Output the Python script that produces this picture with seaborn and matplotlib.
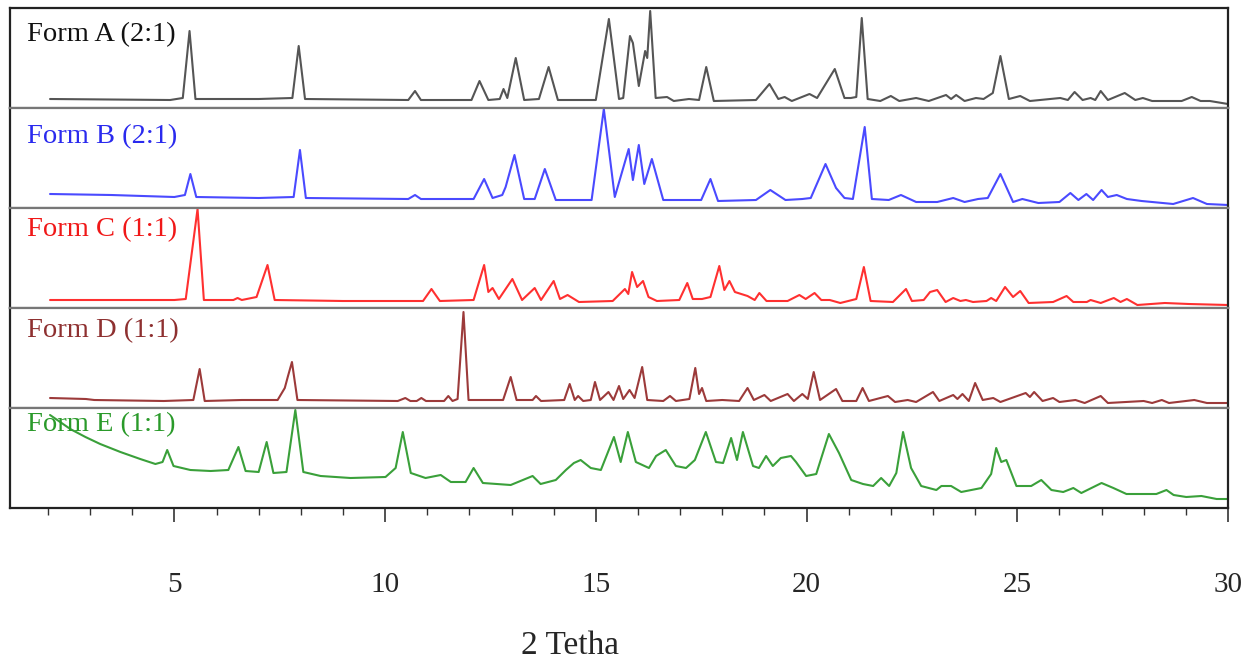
import numpy as np
import pandas as pd
import matplotlib
matplotlib.use("Agg")
import matplotlib.pyplot as plt
from matplotlib.ticker import FixedLocator
import seaborn as sns

# Traces: 2-theta positions and intensity (0-100 within each panel)
form_a_x = [2.05, 4.9, 5.2, 5.36, 5.5, 7.0, 7.8, 7.95, 8.1, 10.55, 10.71, 10.85, 12.05, 12.24, 12.45,
            12.72, 12.81, 12.9, 13.1, 13.3, 13.65, 13.88, 14.1, 15.0, 15.31, 15.55, 15.65, 15.81, 15.88,
            16.02, 16.17, 16.22, 16.29, 16.42, 16.69, 16.85, 17.21, 17.45, 17.62, 17.8, 18.8, 19.12,
            19.33, 19.48, 19.65, 20.07, 20.25, 20.67, 20.9, 21.05, 21.18, 21.31, 21.45, 21.75, 22.0,
            22.2, 22.6, 22.9, 23.31, 23.43, 23.55, 23.75, 24.02, 24.2, 24.42, 24.6, 24.8, 25.07, 25.3,
            26.02, 26.2, 26.36, 26.55, 26.74, 26.85, 26.98, 27.15, 27.55, 27.8, 27.98, 28.2, 28.9,
            29.14, 29.35, 29.57, 30.0]
form_a_y = [9, 8, 10, 77, 9, 9, 10, 62, 9, 8, 17, 8, 8, 27, 8,
            9, 19, 10, 50, 8, 9, 41, 8, 8, 89, 9, 10, 72, 65,
            22, 57, 50, 97, 10, 11, 7, 9, 8, 41, 7, 8, 24,
            9, 11, 7, 14, 10, 39, 10, 10, 11, 90, 9, 7, 12,
            7, 10, 7, 13, 9, 13, 7, 10, 9, 15, 52, 9, 12, 7,
            10, 8, 16, 8, 10, 8, 17, 8, 15, 8, 10, 7, 7,
            11, 7, 7, 4]

form_b_x = [2.05, 3.5, 5.0, 5.25, 5.38, 5.52, 7.0, 7.83, 7.98, 8.12, 10.55, 10.71, 10.85, 12.1, 12.35,
            12.55, 12.78, 12.86, 13.07, 13.3, 13.55, 13.79, 14.05, 14.9, 15.19, 15.45, 15.78, 15.88,
            16.02, 16.15, 16.33, 16.6, 17.5, 17.72, 17.9, 18.8, 19.14, 19.5, 19.9, 20.1, 20.45, 20.7,
            20.9, 21.1, 21.38, 21.55, 21.95, 22.24, 22.6, 23.1, 23.48, 23.75, 24.07, 24.3, 24.6, 24.9,
            25.12, 25.5, 26.0, 26.26, 26.45, 26.64, 26.8, 27.0, 27.15, 27.36, 27.6, 27.95, 28.7, 29.17,
            29.5, 30.0]
form_b_y = [14, 13, 11, 13, 34, 11, 10, 11, 58, 10, 9, 13, 9, 9, 29,
            10, 13, 21, 53, 9, 9, 39, 8, 8, 99, 11, 59, 28,
            63, 24, 49, 8, 8, 29, 7, 8, 18, 8, 9, 10, 44, 20,
            10, 9, 81, 9, 8, 13, 6, 6, 10, 6, 9, 10, 34, 6,
            9, 5, 6, 15, 8, 14, 8, 18, 11, 13, 9, 7, 4, 10,
            4, 3]

form_c_x = [2.05, 5.0, 5.27, 5.55, 5.7, 6.4, 6.5, 6.6, 6.95, 7.21, 7.38, 9.0, 10.9, 11.1, 11.3, 12.1,
            12.25, 12.35, 12.45, 12.55, 12.7, 13.02, 13.25, 13.55, 13.7, 14.0, 14.15, 14.33, 14.6, 15.4,
            15.69, 15.77, 15.86, 15.98, 16.12, 16.25, 16.45, 16.98, 17.17, 17.3, 17.52, 17.72, 17.93,
            18.05, 18.17, 18.3, 18.6, 18.77, 18.88, 19.05, 19.55, 19.83, 19.98, 20.19, 20.35, 20.55,
            20.8, 21.18, 21.36, 21.52, 22.05, 22.36, 22.5, 22.78, 22.93, 23.1, 23.3, 23.48, 23.65, 23.78,
            23.95, 24.27, 24.38, 24.5, 24.71, 24.9, 25.07, 25.27, 25.85, 26.17, 26.33, 26.65, 26.74,
            26.98, 27.29, 27.45, 27.6, 27.85, 28.5, 29.07, 30.0]
form_c_y = [8, 8, 9, 99, 8, 8, 10, 8, 11, 43, 8, 7, 7, 19, 7, 8,
            29, 43, 16, 20, 9, 29, 8, 20, 8, 27, 9, 13, 6, 7,
            19, 14, 36, 21, 27, 11, 7, 8, 25, 9, 9, 11, 42,
            18, 27, 16, 12, 8, 15, 7, 7, 13, 9, 15, 8, 8,
            5, 9, 41, 7, 6, 19, 7, 8, 16, 18, 6, 10, 7, 8,
            6, 7, 10, 7, 21, 11, 17, 5, 6, 12, 6, 6, 8,
            5, 10, 6, 9, 3, 5, 4, 3]

form_d_x = [2.05, 2.9, 3.1, 4.75, 5.45, 5.6, 5.72, 6.6, 7.45, 7.62, 7.69, 7.79, 7.92, 10.3, 10.48, 10.6,
            10.75, 10.86, 10.97, 11.4, 11.5, 11.6, 11.72, 11.86, 11.98, 12.8, 12.98, 13.12, 13.5, 13.58,
            13.7, 14.25, 14.38, 14.5, 14.58, 14.7, 14.88, 14.98, 15.1, 15.3, 15.42, 15.55, 15.65, 15.8,
            15.92, 16.1, 16.22, 16.6, 16.76, 16.9, 17.22, 17.36, 17.45, 17.52, 17.62, 18.0, 18.4, 18.6,
            18.75, 19.0, 19.15, 19.55, 19.7, 19.9, 20.03, 20.17, 20.32, 20.7, 20.85, 21.18, 21.33, 21.48,
            21.93, 22.1, 22.4, 22.6, 23.0, 23.15, 23.48, 23.58, 23.7, 23.85, 24.0, 24.18, 24.43, 24.6,
            25.2, 25.3, 25.4, 25.6, 25.85, 26.0, 26.38, 26.6, 26.98, 27.15, 28.0, 28.2, 28.43, 28.6,
            29.2, 29.5, 30.0]
form_d_y = [10, 9, 8, 7, 8, 39, 7, 8, 8, 20, 31, 46, 8, 7, 10, 7,
            7, 10, 7, 7, 12, 7, 9, 96, 8, 8, 31, 8, 8, 12,
            7, 8, 24, 8, 12, 7, 8, 26, 8, 16, 8, 22, 9, 18,
            10, 41, 8, 7, 12, 7, 9, 40, 14, 20, 7, 8, 7, 20,
            8, 13, 7, 14, 7, 14, 9, 36, 8, 19, 7, 7, 20, 7,
            12, 6, 8, 6, 16, 7, 13, 9, 14, 7, 25, 8, 10, 6,
            15, 11, 16, 7, 10, 6, 8, 5, 12, 5, 7, 5, 8, 5,
            8, 5, 5]

form_e_x = [2.05, 2.29, 2.53, 2.89, 3.24, 3.72, 4.19, 4.55, 4.72, 4.83, 4.98, 5.38, 5.86, 6.28, 6.52,
            6.69, 7.0, 7.19, 7.35, 7.66, 7.87, 8.06, 8.47, 9.18, 10.01, 10.25, 10.42, 10.61, 10.96,
            11.32, 11.56, 11.91, 12.1, 12.32, 12.98, 13.5, 13.69, 14.05, 14.29, 14.48, 14.64, 14.88,
            15.12, 15.43, 15.59, 15.76, 15.95, 16.26, 16.43, 16.66, 16.9, 17.14, 17.35, 17.61, 17.85,
            18.02, 18.21, 18.35, 18.49, 18.73, 18.87, 19.04, 19.2, 19.39, 19.63, 19.75, 19.99, 20.23,
            20.53, 20.77, 21.06, 21.34, 21.58, 21.77, 21.96, 22.13, 22.29, 22.48, 22.72, 23.08, 23.2,
            23.43, 23.67, 24.15, 24.38, 24.5, 24.62, 24.74, 24.98, 25.33, 25.57, 25.81, 26.09, 26.33,
            26.52, 26.76, 27.0, 27.28, 27.59, 28.06, 28.3, 28.54, 28.71, 29.01, 29.37, 29.73, 30.0]
form_e_y = [93, 86, 79, 71, 64, 56, 49, 44, 46, 58, 42, 38, 37, 38, 61,
            37, 36, 66, 35, 36, 98, 36, 32, 30, 31, 40, 76, 35, 30,
            33, 26, 26, 40, 25, 23, 32, 24, 28, 38, 45, 48, 40,
            38, 71, 46, 76, 46, 40, 52, 58, 42, 40, 48, 76, 46,
            45, 70, 48, 76, 42, 40, 52, 42, 50, 52, 46, 32, 34,
            74, 55, 28, 24, 22, 30, 22, 35, 76, 40, 22, 18, 22,
            22, 16, 20, 34, 60, 46, 48, 22, 22, 28, 18, 16, 20,
            15, 20, 25, 20, 14, 14, 14, 18, 13, 11, 12, 9, 9]

form_names = ["Form A (2:1)", "Form B (2:1)", "Form C (1:1)", "Form D (1:1)", "Form E (1:1)"]
line_colors = ["#555555", "#4a4aff", "#ff3030", "#9c3a3a", "#3aa03a"]
text_colors = ["#111111", "#2a2aee", "#f01818", "#8e3030", "#2a9a2a"]
label_y_px = [35, 137, 230, 331, 425]

traces = [(form_a_x, form_a_y), (form_b_x, form_b_y), (form_c_x, form_c_y),
          (form_d_x, form_d_y), (form_e_x, form_e_y)]

sns.set_style("white")
plt.rcParams['font.family'] = ['Liberation Serif', 'DejaVu Serif']

W, H = 1253, 666
fig, axes = plt.subplots(5, 1, figsize=(W / 100, H / 100), dpi=100, sharex=True,
                         gridspec_kw=dict(hspace=0))
fig.subplots_adjust(left=10 / W, right=1228 / W, top=1 - 8 / H, bottom=1 - 508 / H)

for i, ax in enumerate(axes):
    xs, ys = traces[i]
    df = pd.DataFrame({'two_theta': xs, 'intensity': ys})
    sns.lineplot(data=df, x='two_theta', y='intensity', ax=ax, color=line_colors[i],
                 lw=1.5, estimator=None, sort=False)
    ax.set_ylim(0, 100)
    ax.set_xlim(1.1, 30.0)
    ax.set_yticks([])
    ax.set_ylabel('')
    ax.set_xlabel('')
    for side in ['top', 'bottom', 'left', 'right']:
        ax.spines[side].set_linewidth(1.6)
        ax.spines[side].set_color('#222222')
    if i > 0:
        ax.spines['top'].set_color('#777777')
    if i < 4:
        ax.spines['bottom'].set_color('#777777')
        ax.tick_params(bottom=False, labelbottom=False)
    fig.text(27 / W, 1 - label_y_px[i] / H, form_names[i], color=text_colors[i],
             fontsize=20.5, ha='left', va='center')

ax = axes[-1]
ax.xaxis.set_major_locator(FixedLocator([5, 10, 15, 20, 25, 30]))
ax.xaxis.set_minor_locator(FixedLocator([m for m in range(2, 30) if m % 5 != 0]))
ax.tick_params(axis='x', which='major', direction='out', length=10, width=1.2,
               labelsize=21, pad=36, bottom=True, labelbottom=True, color='#333333')
ax.tick_params(axis='x', which='minor', direction='out', length=5, width=1.0,
               bottom=True, color='#333333')

fig.text(570 / W, 1 - 646 / H, "2 Tetha", fontsize=24, ha='center', va='center')

fig.savefig('out.png', dpi=100)
